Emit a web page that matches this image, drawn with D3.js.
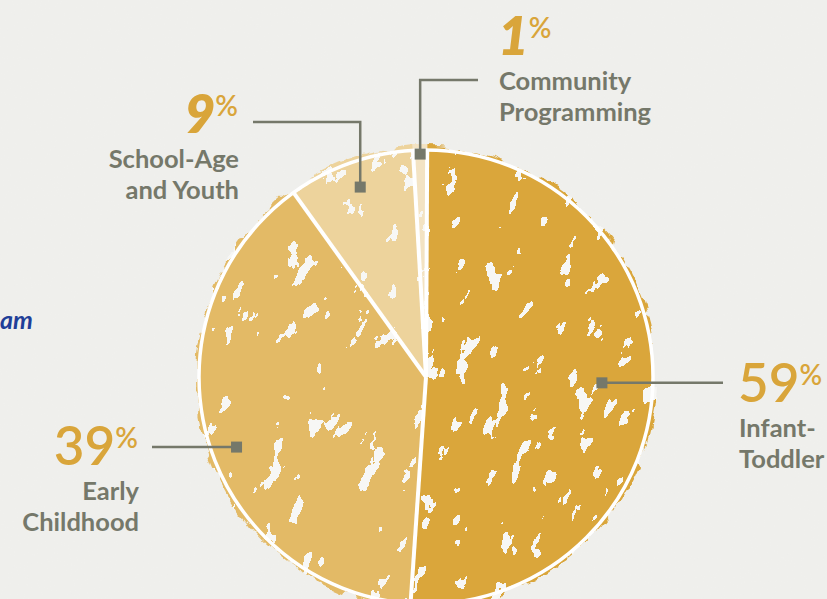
<!DOCTYPE html>
<html lang="en">
<head>
    <meta charset="utf-8">
    <style>
        body { margin: 0; background: #f0f0ed; }
        svg { width: 827px; height: 599px; display: block; }
        text { font-family: Lato, "Open Sans", sans-serif; }
    </style>
</head>
<body>
    <svg></svg>
    <script src="https://cdn.jsdelivr.net/npm/d3@7/dist/d3.min.js"></script>
    <script>
        /************************************************************************************
        * Data
        ************************************************************************************/
        const categories = ["Infant-Toddler", "Early Childhood", "School-Age and Youth", "Community Programming"];
        const nameLines = [["Infant-", "Toddler"], ["Early", "Childhood"], ["School-Age", "and Youth"], ["Community", "Programming"]];
        // percentages as printed on the labels
        const printedPct = [59, 39, 9, 1];
        // shares as the slices are actually drawn (printed 59 does not match its slice, 51 does)
        const drawnShare = [51, 39, 9, 1];

        const svg = d3.select("svg");
        const W = 827, H = 599;
        const cx = 426, cy = 377, radius = 227;

        const colors = d3.scaleOrdinal().domain(categories)
            .range(["#daa63b", "#e3ba66", "#edd39c", "#f3e3c3"]);
        const pctColor = "#d9a53a", inkColor = "#75786a", paper = "#f0f0ed";

        /************************************************************************************
        * Filters: rough edge, white spots, paper grain
        ************************************************************************************/
        const defs = svg.append("defs");

        const rough = defs.append("filter").attr("id", "rough")
            .attr("x", "-10%").attr("y", "-10%").attr("width", "120%").attr("height", "120%");
        rough.append("feTurbulence").attr("type", "fractalNoise").attr("baseFrequency", 0.05)
            .attr("numOctaves", 3).attr("seed", 3).attr("result", "n");
        rough.append("feDisplacementMap").attr("in", "SourceGraphic").attr("in2", "n")
            .attr("scale", 16).attr("xChannelSelector", "R").attr("yChannelSelector", "G");

        const spots = defs.append("filter").attr("id", "spots")
            .attr("x", 0).attr("y", 0).attr("width", 1).attr("height", 1);
        spots.append("feTurbulence").attr("type", "fractalNoise").attr("baseFrequency", "0.03 0.055")
            .attr("numOctaves", 4).attr("seed", 11).attr("result", "n");
        spots.append("feColorMatrix").attr("in", "n").attr("type", "matrix")
            .attr("values", "0 0 0 0 0.93  0 0 0 0 0.93  0 0 0 0 0.91  1 0 0 0 0");
        spots.append("feComponentTransfer").append("feFuncA").attr("type", "discrete")
            .attr("tableValues", "0 0 0 0 0 0 0 0 0 0 0 0 0 0 0 0 0 1 1 1 1 1 1 1 1");

        const grain = defs.append("filter").attr("id", "grain")
            .attr("x", 0).attr("y", 0).attr("width", 1).attr("height", 1);
        grain.append("feTurbulence").attr("type", "fractalNoise").attr("baseFrequency", 0.7)
            .attr("numOctaves", 2).attr("seed", 5).attr("result", "g");
        grain.append("feColorMatrix").attr("in", "g").attr("type", "matrix")
            .attr("values", "0 0 0 0 0.6  0 0 0 0 0.6  0 0 0 0 0.6  0 0 0 0.05 0");

        const mask = defs.append("mask").attr("id", "edgeMask")
            .attr("maskUnits", "userSpaceOnUse")
            .attr("x", -300).attr("y", -300).attr("width", 600).attr("height", 600);
        mask.append("circle").attr("r", radius + 3).attr("fill", "#fff").attr("filter", "url(#rough)");

        svg.append("rect").attr("width", W).attr("height", H).attr("fill", paper);
        svg.append("rect").attr("width", W).attr("height", H).attr("filter", "url(#grain)");

        // tail of a heading that runs off the left edge
        svg.append("text").attr("x", 0).attr("y", 329)
            .attr("font-size", 25).attr("font-weight", 700).attr("font-style", "italic")
            .attr("fill", "#1f3f98").text("am");

        /************************************************************************************
        * Pie
        ************************************************************************************/
        const start = 0.3 * Math.PI / 180;
        const pie = d3.pie().sort(null).startAngle(start).endAngle(start + 2 * Math.PI);
        const arcs = pie(drawnShare).map((d, i) => Object.assign(d, { cat: categories[i], i: i }));
        const arc = d3.arc().innerRadius(0).outerRadius(radius + 14);

        const chart = svg.append("g").attr("transform", `translate(${cx}, ${cy})`);
        const textured = chart.append("g").attr("mask", "url(#edgeMask)");

        textured.selectAll("path").data(arcs).enter()
            .append("path")
            .attr("d", arc)
            .attr("fill", d => colors(d.cat));

        textured.append("g").attr("transform", "rotate(-65)")
            .append("rect").attr("x", -300).attr("y", -300).attr("width", 600).attr("height", 600)
            .attr("fill", "#fff").attr("filter", "url(#spots)");

        // white outline and separators
        chart.append("circle").attr("r", radius).attr("fill", "none")
            .attr("stroke", "#fff").attr("stroke-width", 3.5);
        chart.selectAll("line.sep").data(arcs).enter()
            .append("line").attr("class", "sep")
            .attr("x1", 0).attr("y1", 0)
            .attr("x2", d => radius * Math.sin(d.startAngle))
            .attr("y2", d => -radius * Math.cos(d.startAngle))
            .attr("stroke", "#fff").attr("stroke-width", 4);

        /************************************************************************************
        * Callouts
        ************************************************************************************/
        // marker placement (angle offset from slice middle, radius), elbow, and text anchor
        const callouts = [
            { dAng: -0.2, r: 176, path: m => [[m[0], m[1]], [723, m[1]]], x: 738, y: 402, anchor: "start" },
            { dAng: -4.4, r: 202, path: m => [[m[0], m[1]], [152, m[1]]], x: 138, y: 465, anchor: "end" },
            { dAng: 0.4, r: 201, path: m => [[m[0], m[1]], [m[0], 122], [253, 122]], x: 238, y: 133, anchor: "end" },
            { dAng: 0, r: 223, path: m => [[m[0], m[1]], [m[0], 80], [478, 80]], x: 498, y: 55, anchor: "start" }
        ];
        const italicPct = [false, false, true, true];

        const line = d3.line();
        const labels = svg.append("g");

        arcs.forEach((d, i) => {
            const c = callouts[i];
            const a = (d.startAngle + d.endAngle) / 2 + c.dAng * Math.PI / 180;
            const m = [cx + c.r * Math.sin(a), cy - c.r * Math.cos(a)];

            labels.append("path").attr("d", line(c.path(m)))
                .attr("fill", "none").attr("stroke", inkColor).attr("stroke-width", 2.5);
            labels.append("rect").attr("x", m[0] - 5.5).attr("y", m[1] - 5.5)
                .attr("width", 11).attr("height", 11).attr("fill", inkColor);

            const pct = labels.append("text").attr("x", c.x).attr("y", c.y)
                .attr("text-anchor", c.anchor).attr("fill", pctColor)
                .attr("font-size", 53)
                .attr("font-weight", italicPct[i] ? 800 : 600)
                .attr("font-style", italicPct[i] ? "italic" : "normal");
            pct.append("tspan").text(printedPct[i]);
            pct.append("tspan").attr("font-size", 28).attr("dy", -17).attr("font-weight", 600)
                .attr("font-style", "normal").text("%");

            labels.append("text").attr("text-anchor", c.anchor)
                .attr("fill", inkColor).attr("font-size", 25.5).attr("font-weight", 700)
                .selectAll("tspan").data(nameLines[i]).enter()
                .append("tspan").attr("x", c.x + 1)
                .attr("y", (t, j) => c.y + 35 + j * 31)
                .text(t => t);
        });
    </script>
</body>
</html>
